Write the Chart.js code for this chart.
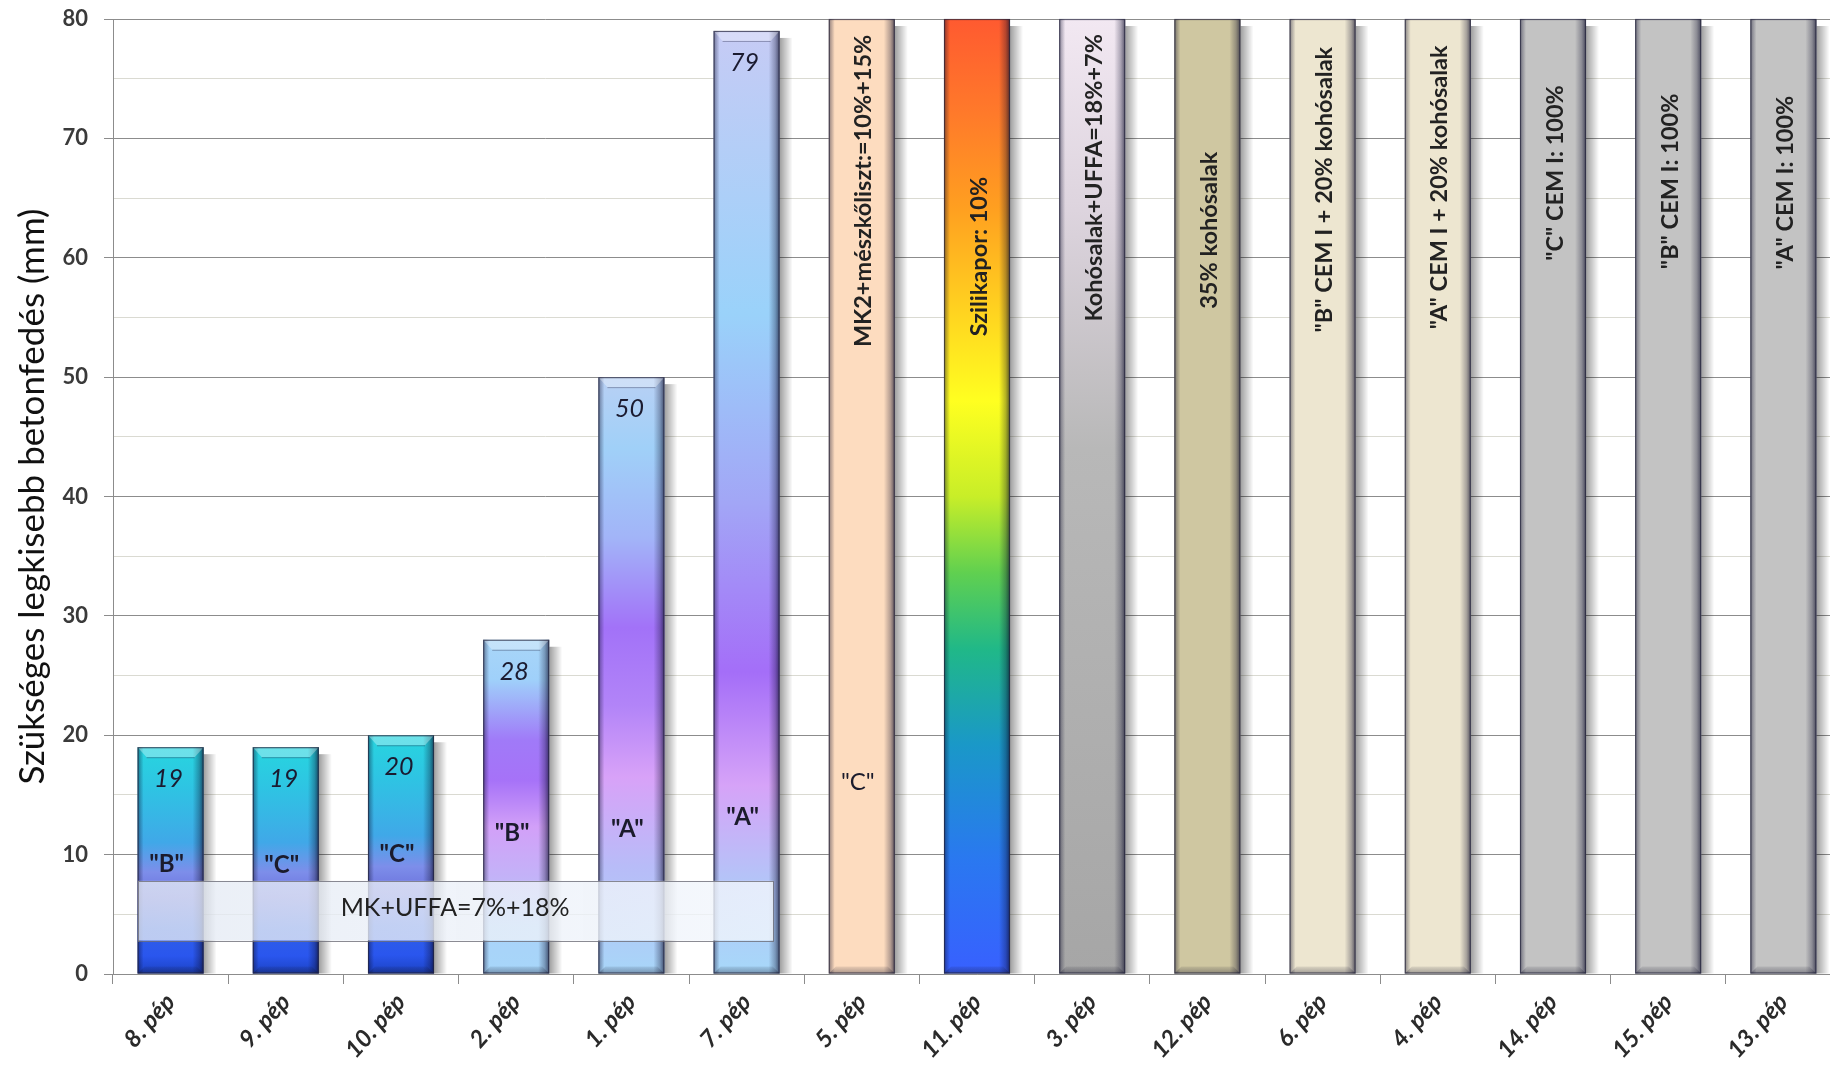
<!DOCTYPE html>
<html>
<head>
<meta charset="utf-8">
<script src="https://cdn.jsdelivr.net/npm/chart.js@4.4.1/dist/chart.umd.min.js"></script>
<style>
  html, body { margin: 0; padding: 0; background: #fff; overflow: hidden; width: 1830px; height: 1074px; }
  #wrap { position: relative; width: 1846px; height: 1074px; }
</style>
</head>
<body>
<div id="wrap"><canvas id="c" width="1846" height="1074"></canvas></div>
<script>
// Paste categories, ordered by required cover
const categories = ['8. pép', '9. pép', '10. pép', '2. pép', '1. pép', '7. pép', '5. pép', '11. pép',
                    '3. pép', '12. pép', '6. pép', '4. pép', '14. pép', '15. pép', '13. pép'];
// Minimum required concrete cover (mm); full-height bars run off the top of the scale
const coverValues = [19, 19, 20, 28, 50, 79, 80, 80, 80, 80, 80, 80, 80, 80, 80];
// Cement type written inside the bars
const cementLetters = ['"B"', '"C"', '"C"', '"B"', '"A"', '"A"', '"C"', '', '', '', '', '', '', '', ''];
// Mix description written vertically inside the tall bars
const mixLabels = ['', '', '', '', '', '',
  'MK2+mészkőliszt:=10%+15%', 'Szilikapor: 10%', 'Kohósalak+UFFA=18%+7%', '35% kohósalak',
  '"B" CEM I + 20% kohósalak', '"A" CEM I + 20% kohósalak',
  '"C" CEM I: 100%', '"B" CEM I: 100%', '"A" CEM I: 100%'];
// Shared note over the first six pastes
const groupNote = 'MK+UFFA=7%+18%';
const yAxisTitle = 'Szükséges legkisebb betonfedés (mm)';
const yMax = 80;

// ---- styling ----
const FONT = 'Lato, "Open Sans", sans-serif';
const barStyles = ['teal', 'teal', 'teal', 'violetShort', 'violetMid', 'violetTall', 'peach', 'rainbow',
                   'silver', 'khaki', 'cream', 'cream', 'grey', 'grey', 'grey'];
const palettes = {
  teal: [[0, '#27d5df'], [0.18, '#2ec4e3'], [0.42, '#40a8e8'], [0.55, '#7d8eea'], [0.66, '#6a70dc'],
         [0.8, '#2f5fe6'], [0.92, '#2a56ee'], [1, '#1b42c2']],
  violetShort: [[0, '#a9d6f8'], [0.12, '#9fd0fa'], [0.3, '#a07af8'], [0.42, '#a672f8'], [0.56, '#d2a0f8'],
                [0.72, '#c2b4f8'], [0.86, '#a9d2f9'], [1, '#a7d6f9']],
  violetMid: [[0, '#b8d0f4'], [0.12, '#a0d0f8'], [0.27, '#a2b4f8'], [0.42, '#a272f8'], [0.55, '#b284f8'],
              [0.67, '#d8a2f8'], [0.82, '#b8bcf8'], [1, '#a8d6f8']],
  violetTall: [[0, '#c6cbf5'], [0.3, '#9ad2fa'], [0.5, '#a2a6f6'], [0.68, '#a46ef8'], [0.8, '#d6a3f8'],
               [0.9, '#b4c4f8'], [1, '#a7d8f9']],
  rainbow: [[0, '#ff5a30'], [0.1, '#ff7a2a'], [0.2, '#ffa020'], [0.3, '#ffd020'], [0.4, '#ffff20'],
            [0.5, '#c8ee28'], [0.58, '#60d050'], [0.66, '#20b888'], [0.76, '#1a98c8'], [0.88, '#2a78f0'],
            [1, '#3860ff']],
  silver: [[0, '#f2e8f2'], [0.2, '#ddd4de'], [0.45, '#b8b8b8'], [1, '#a6a6a6']],
  peach: '#fddcbf',
  khaki: '#cfc7a1',
  cream: '#ede6d0',
  grey: '#c3c3c3'
};
// label anchors, in data units
const letterAt = [9.2, 9.1, 10.0, 11.8, 12.1, 13.1, 16.1];
const mixCenterAt = [0, 0, 0, 0, 0, 0, 65.6, 60.1, 66.7, 62.3, 65.7, 65.9, 67.1, 66.4, 66.3];
const noteBox = { fromIndex: -0.283, toIndex: 5.23, low: 2.8, high: 7.8, textIndex: 2.47, textAt: 5.5 };

function barFill(ctx) {
  const p = palettes[barStyles[ctx.dataIndex]];
  if (typeof p === 'string') return p;
  const ys = ctx.chart.scales.y;
  if (!ys) return p[0][1];
  const top = ys.getPixelForValue(Math.min(ctx.raw, yMax));
  const base = ys.getPixelForValue(0);
  if (!Number.isFinite(top) || !Number.isFinite(base) || top === base) return p[0][1];
  const g = ctx.chart.ctx.createLinearGradient(0, top, 0, base);
  p.forEach(s => g.addColorStop(s[0], s[1]));
  return g;
}

function barBoxes(chart) {
  return chart.getDatasetMeta(0).data.map((b, i) => {
    const p = b.getProps(['x', 'y', 'base', 'width'], true);
    return { i, x: p.x, top: p.y, base: p.base, l: p.x - p.width / 2, r: p.x + p.width / 2, w: p.width };
  });
}

// 3-D look: drop shadow, shaded edges, bevelled top and bottom
const bevelPlugin = {
  id: 'bevel',
  beforeDatasetsDraw(chart) {
    const c = chart.ctx;
    c.save();
    barBoxes(chart).forEach(b => {
      const g = c.createLinearGradient(b.r, 0, b.r + 13, 0);
      g.addColorStop(0, 'rgba(0,0,0,0.38)');
      g.addColorStop(1, 'rgba(0,0,0,0)');
      c.fillStyle = g;
      c.fillRect(b.r, b.top + 7, 13, b.base - b.top - 7);
    });
    c.restore();
  },
  afterDatasetsDraw(chart) {
    const c = chart.ctx;
    const ys = chart.scales.y;
    c.save();
    barBoxes(chart).forEach(b => {
      const h = b.base - b.top;
      const clipped = coverValues[b.i] >= yMax;
      // right edge shading
      let g = c.createLinearGradient(b.r - 11, 0, b.r, 0);
      g.addColorStop(0, 'rgba(10,10,40,0)');
      g.addColorStop(0.6, 'rgba(10,10,40,0.3)');
      g.addColorStop(1, 'rgba(10,10,40,0.66)');
      c.fillStyle = g;
      c.fillRect(b.r - 11, b.top, 11, h);
      // left edge shading
      g = c.createLinearGradient(b.l, 0, b.l + 6, 0);
      g.addColorStop(0, 'rgba(10,10,40,0.45)');
      g.addColorStop(1, 'rgba(10,10,40,0)');
      c.fillStyle = g;
      c.fillRect(b.l, b.top, 6, h);
      // bottom bevel
      g = c.createLinearGradient(0, b.base - 8, 0, b.base);
      g.addColorStop(0, 'rgba(20,20,40,0.05)');
      g.addColorStop(1, 'rgba(20,20,40,0.35)');
      c.fillStyle = g;
      c.beginPath();
      c.moveTo(b.l, b.base); c.lineTo(b.r, b.base);
      c.lineTo(b.r - 7, b.base - 7); c.lineTo(b.l + 7, b.base - 7); c.closePath();
      c.fill();
      // top bevel
      if (!clipped) {
        c.beginPath();
        c.moveTo(b.l, b.top); c.lineTo(b.r, b.top);
        c.lineTo(b.r - 9, b.top + 10); c.lineTo(b.l + 9, b.top + 10); c.closePath();
        c.fillStyle = 'rgba(255,255,255,0.32)';
        c.fill();
        c.strokeStyle = 'rgba(30,30,60,0.35)';
        c.lineWidth = 1;
        c.beginPath();
        c.moveTo(b.l + 9, b.top + 10.5); c.lineTo(b.r - 9, b.top + 10.5);
        c.stroke();
      }
      // outline
      c.strokeStyle = 'rgba(35,35,60,0.7)';
      c.lineWidth = 1.2;
      c.strokeRect(b.l + 0.5, b.top + 0.5, b.w - 1, h - 1);
    });

    // translucent note box across the first six pastes
    const xs = chart.scales.x;
    const step = xs.getPixelForValue(1) - xs.getPixelForValue(0);
    const idxPx = v => xs.getPixelForValue(0) + v * step;
    const bx0 = idxPx(noteBox.fromIndex), bx1 = idxPx(noteBox.toIndex);
    const by0 = ys.getPixelForValue(noteBox.high), by1 = ys.getPixelForValue(noteBox.low);
    const gb = c.createLinearGradient(bx0, 0, bx1, 0);
    gb.addColorStop(0, 'rgba(228,234,244,0.78)');
    gb.addColorStop(1, 'rgba(242,246,252,0.8)');
    c.fillStyle = gb;
    c.fillRect(bx0, by0, bx1 - bx0, by1 - by0);
    c.strokeStyle = 'rgba(110,110,120,0.8)';
    c.lineWidth = 1;
    c.strokeRect(Math.round(bx0) + 0.5, Math.round(by0) + 0.5, Math.round(bx1 - bx0), Math.round(by1 - by0));
    c.fillStyle = '#222';
    c.font = '25px ' + FONT;
    c.textAlign = 'center';
    c.textBaseline = 'middle';
    c.fillText(groupNote, idxPx(noteBox.textIndex), ys.getPixelForValue(noteBox.textAt));
    c.restore();
  },
  afterDraw(chart) {
    const c = chart.ctx;
    const ys = chart.scales.y;
    c.save();
    c.textAlign = 'center';
    c.textBaseline = 'middle';
    barBoxes(chart).forEach(b => {
      const v = coverValues[b.i];
      if (v < yMax) {
        c.fillStyle = '#1b1b30';
        c.font = 'italic 25px ' + FONT;
        c.fillText(String(v), b.x - 2, b.top + 32);
      }
      if (cementLetters[b.i]) {
        c.fillStyle = '#1b1b2c';
        c.font = (b.i === 6 ? '' : 'bold ') + '24px ' + FONT;
        c.fillText(cementLetters[b.i], b.x - 4, ys.getPixelForValue(letterAt[b.i]));
      }
      if (mixLabels[b.i]) {
        c.save();
        c.translate(b.x + 2, ys.getPixelForValue(mixCenterAt[b.i]));
        c.rotate(-Math.PI / 2);
        c.fillStyle = '#222';
        c.font = 'bold 23.5px ' + FONT;
        c.fillText(mixLabels[b.i], 0, 0);
        c.restore();
      }
    });
    c.restore();
  }
};

new Chart(document.getElementById('c'), {
  type: 'bar',
  data: {
    labels: categories,
    datasets: [{
      data: coverValues,
      backgroundColor: barFill,
      borderWidth: 0,
      categoryPercentage: 1,
      barPercentage: 0.573
    }]
  },
  options: {
    responsive: false,
    animation: false,
    layout: { padding: { top: 19, right: 5, bottom: 0, left: 0 } },
    plugins: { legend: { display: false }, tooltip: { enabled: false } },
    scales: {
      x: {
        grid: { offset: true, drawOnChartArea: false, tickLength: 10, color: '#8c8c8c' },
        border: { color: '#8c8c8c' },
        ticks: { maxRotation: 48, minRotation: 48, padding: 4, color: '#2a2a2a',
                 font: { family: FONT, size: 24, style: 'italic', weight: 'bold' } },
        afterFit(s) { s.height = 100; s.paddingLeft = 0; s.paddingRight = 0; }
      },
      y: {
        min: 0, max: yMax,
        ticks: { stepSize: 5, padding: 16, color: '#3a3a3a',
                 font: { family: FONT, size: 22, weight: 'bold' },
                 callback: v => (v % 10 === 0 ? v : '') },
        grid: {
          color: c => (c.tick && c.tick.value % 10 === 0 ? '#8c8c8c' : '#dadad2'),
          tickColor: c => (c.tick && c.tick.value % 10 === 0 ? '#8c8c8c' : 'rgba(0,0,0,0)'),
          tickLength: 9
        },
        border: { color: '#8c8c8c' },
        title: { display: true, text: yAxisTitle, color: '#111',
                 font: { family: FONT, size: 35 }, padding: { top: 12, bottom: 0 } },
        afterFit(s) { s.width = 113; s.paddingTop = 0; s.paddingBottom = 0; }
      }
    }
  },
  plugins: [bevelPlugin]
});
</script>
</body>
</html>
